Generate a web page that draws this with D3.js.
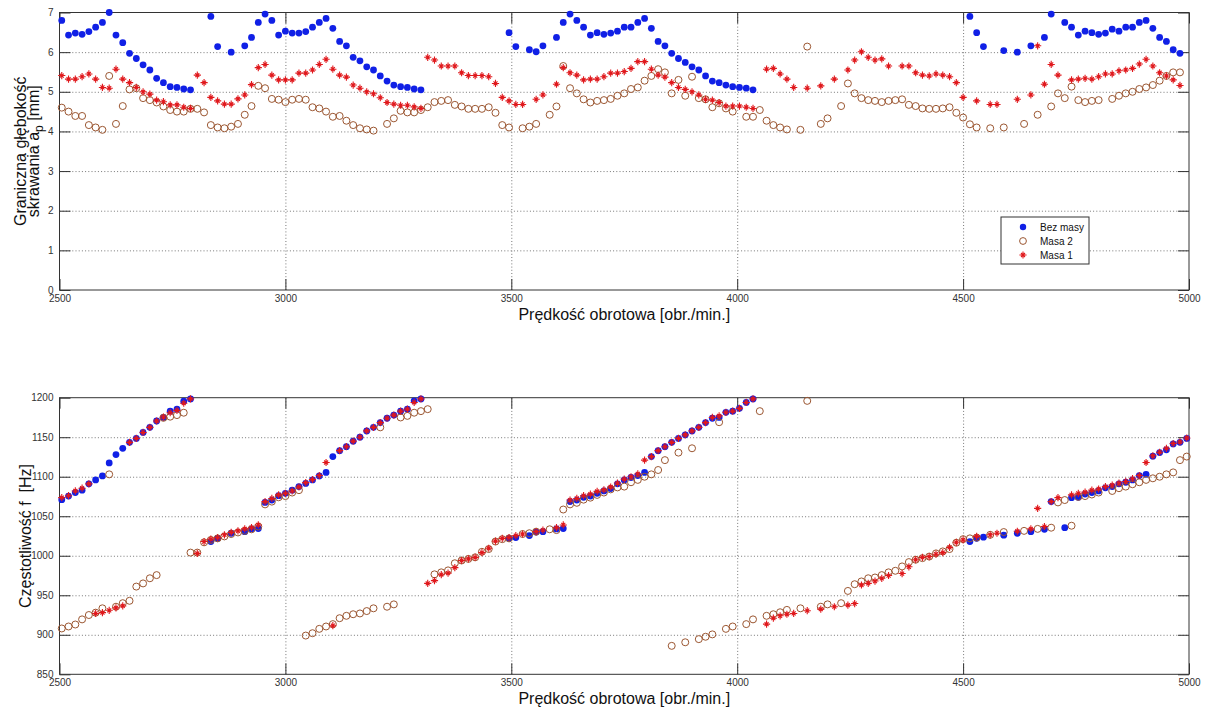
<!DOCTYPE html>
<html>
<head>
<meta charset="utf-8">
<script src="https://cdn.jsdelivr.net/npm/d3@7"></script>
<style>
  body { margin: 0; background: #fff; }
  svg { display: block; font-family: "Liberation Sans", Arial, sans-serif; }
  .tick text { font-size: 10px; fill: #333; }
  .label { font-size: 16px; fill: #111; }
</style>
</head>
<body>
<svg id="chart" width="1206" height="713"></svg>
<script>
// --- data: [rpm, value] ---
const rpmTicks = [2500, 3000, 3500, 4000, 4500, 5000];
const depthTicks = [0, 1, 2, 3, 4, 5, 6, 7];
const freqTicks = [850, 900, 950, 1000, 1050, 1100, 1150, 1200];
const seriesNames = ["Bez masy", "Masa 2", "Masa 1"];

// graniczna glebokosc skrawania [mm]
const depthBezMasy = [[2505,6.80],[2520,6.43],[2535,6.48],[2550,6.45],[2565,6.52],[2580,6.63],[2595,6.75],[2610,7.0],[2625,6.43],[2640,6.24],[2655,5.97],[2670,5.84],[2685,5.68],[2700,5.55],[2715,5.34],[2730,5.23],[2745,5.13],[2760,5.11],[2775,5.07],[2790,5.05],
  [2835,6.90],[2850,6.14],[2880,6.00],[2910,6.16],[2925,6.37],[2940,6.75],[2955,6.96],[2970,6.80],[2985,6.43],[3000,6.53],[3015,6.48],[3030,6.48],[3045,6.52],[3060,6.63],[3075,6.75],[3090,6.85],[3105,6.60],[3120,6.27],[3135,6.16],[3150,5.87],[3165,5.78],[3180,5.63],[3195,5.55],[3210,5.40],[3225,5.27],[3240,5.17],[3255,5.13],[3270,5.11],[3285,5.07],[3300,5.05],
  [3495,6.49],[3510,6.14],[3540,6.06],[3555,6.01],[3570,6.16],[3600,6.37],[3615,6.75],[3630,6.96],[3645,6.80],[3660,6.63],[3675,6.43],[3690,6.49],[3705,6.45],[3720,6.48],[3735,6.53],[3750,6.63],[3765,6.63],[3780,6.75],[3795,6.85],[3810,6.60],[3825,6.27],[3840,6.16],[3855,5.97],[3870,5.84],[3885,5.74],[3900,5.63],[3915,5.55],[3930,5.40],[3945,5.27],[3960,5.23],[3975,5.17],[3990,5.13],[4005,5.11],[4020,5.09],[4035,5.05],
  [4515,6.90],[4530,6.49],[4545,6.14],[4590,6.04],[4620,6.00],[4650,6.16],[4680,6.37],[4695,6.96],[4725,6.75],[4740,6.63],[4755,6.43],[4770,6.53],[4785,6.49],[4800,6.45],[4815,6.48],[4830,6.58],[4845,6.53],[4860,6.63],[4875,6.63],[4890,6.75],[4905,6.80],[4920,6.60],[4935,6.37],[4950,6.27],[4965,6.06],[4980,5.97]];

const depthMasa2 = [[2505,4.60],[2520,4.50],[2535,4.39],[2550,4.39],[2565,4.16],[2580,4.10],[2595,4.04],[2610,5.40],[2625,4.19],[2640,4.64],[2655,5.06],[2670,5.09],[2685,4.84],[2700,4.79],[2715,4.73],[2730,4.63],[2745,4.54],[2760,4.50],[2775,4.50],[2790,4.57],[2805,4.57],[2820,4.48],[2835,4.16],[2850,4.10],[2865,4.08],[2880,4.12],[2895,4.19],[2910,4.42],[2925,4.64],[2940,5.15],[2955,5.09],[2970,4.82],[2985,4.80],[3000,4.74],[3015,4.80],[3030,4.82],[3045,4.80],[3060,4.61],[3075,4.58],[3090,4.50],[3105,4.37],[3120,4.39],[3135,4.27],[3150,4.16],[3165,4.08],[3180,4.05],[3195,4.02],[3225,4.19],[3240,4.33],[3255,4.52],[3270,4.48],[3285,4.48],[3300,4.54],
  [3315,4.61],[3330,4.74],[3345,4.77],[3360,4.79],[3375,4.67],[3390,4.63],[3405,4.57],[3420,4.57],[3435,4.57],[3450,4.61],[3465,4.47],[3480,4.16],[3495,4.10],[3525,4.08],[3540,4.12],[3555,4.19],[3585,4.42],[3600,4.63],[3615,5.65],[3630,5.09],[3645,4.96],[3660,4.81],[3675,4.73],[3690,4.77],[3705,4.79],[3720,4.82],[3735,4.90],[3750,4.96],[3765,5.07],[3780,5.11],[3795,5.28],[3810,5.40],[3825,5.57],[3840,5.49],[3855,4.96],[3870,5.30],[3885,4.90],[3900,5.38],[3915,4.84],[3930,4.81],[3945,4.61],[3960,4.71],[3975,4.58],[3990,4.50],[4020,4.37],[4035,4.37],
  [4050,4.54],[4065,4.27],[4080,4.16],[4095,4.10],[4110,4.05],[4140,4.04],[4155,6.14],[4185,4.19],[4200,4.33],[4230,4.64],[4245,5.21],[4260,4.96],[4275,4.84],[4290,4.79],[4305,4.77],[4320,4.74],[4335,4.77],[4350,4.79],[4365,4.81],[4380,4.67],[4395,4.64],[4410,4.58],[4425,4.57],[4440,4.57],[4455,4.58],[4470,4.61],[4485,4.47],[4500,4.35],[4515,4.18],[4530,4.10],[4560,4.08],[4590,4.10],[4635,4.19],[4665,4.42],[4695,4.63],[4710,4.96],[4725,4.84],[4740,5.13],[4755,4.79],[4770,4.74],[4785,4.77],[4800,4.79],[4830,4.82],[4845,4.90],[4860,4.96],[4875,5.00],[4890,5.07],[4905,5.11],[4920,5.17],[4935,5.28],[4950,5.40],[4965,5.49],[4980,5.49]];

const depthMasa1 = [[2505,5.41],[2520,5.32],[2535,5.32],[2550,5.38],[2565,5.45],[2580,5.32],[2595,5.11],[2610,5.09],[2625,5.57],[2640,5.32],[2655,5.23],[2670,5.11],[2685,5.00],[2700,4.94],[2715,4.79],[2730,4.75],[2745,4.67],[2760,4.67],[2775,4.61],[2790,4.58],[2805,5.42],[2820,5.23],[2835,4.86],[2850,4.77],[2865,4.69],[2880,4.69],[2895,4.82],[2910,4.92],[2925,5.18],[2940,5.61],[2955,5.69],[2970,5.42],[2985,5.30],[3000,5.30],[3015,5.30],[3030,5.47],[3045,5.47],[3060,5.55],[3075,5.69],[3090,5.82],[3105,5.57],[3120,5.42],[3135,5.37],[3150,5.17],[3165,5.09],[3180,5.00],[3195,4.95],[3210,4.85],[3225,4.73],[3240,4.69],[3255,4.66],[3270,4.66],[3285,4.62],[3300,4.58],
  [3315,5.87],[3330,5.80],[3345,5.65],[3360,5.65],[3375,5.65],[3390,5.48],[3405,5.41],[3420,5.41],[3435,5.41],[3450,5.38],[3465,5.21],[3480,4.86],[3495,4.77],[3510,4.68],[3525,4.68],[3555,4.81],[3570,4.92],[3600,5.19],[3615,5.61],[3630,5.48],[3645,5.42],[3660,5.30],[3675,5.32],[3690,5.32],[3705,5.38],[3720,5.47],[3735,5.47],[3750,5.51],[3765,5.59],[3780,5.76],[3795,5.76],[3810,5.57],[3825,5.42],[3840,5.37],[3855,5.23],[3870,5.11],[3885,5.06],[3900,5.00],[3915,4.92],[3930,4.81],[3945,4.79],[3960,4.73],[3975,4.64],[3990,4.64],[4005,4.64],[4020,4.61],[4035,4.58],
  [4065,5.57],[4080,5.59],[4095,5.45],[4110,5.32],[4125,5.11],[4155,5.09],[4185,5.15],[4215,5.32],[4245,5.55],[4260,5.80],[4275,6.01],[4290,5.87],[4305,5.80],[4320,5.83],[4335,5.65],[4365,5.65],[4380,5.65],[4395,5.48],[4410,5.42],[4425,5.40],[4440,5.45],[4455,5.42],[4470,5.38],[4485,5.23],[4500,4.86],[4530,4.77],[4560,4.68],[4575,4.68],[4620,4.81],[4650,4.92],[4665,6.16],[4680,5.19],[4695,5.69],[4710,5.42],[4740,5.30],[4755,5.32],[4770,5.34],[4785,5.32],[4800,5.38],[4815,5.45],[4830,5.45],[4845,5.53],[4860,5.55],[4875,5.59],[4890,5.70],[4905,5.82],[4920,5.65],[4935,5.48],[4950,5.40],[4965,5.30],[4980,5.16]];

// czestotliwosc [Hz]
const freqBezMasy = [[2505,1071],[2520,1075.5],[2535,1080],[2550,1083],[2565,1091],[2580,1096],[2595,1101],[2610,1117.5],[2625,1128],[2640,1136],[2655,1143.5],[2670,1148.5],[2685,1156],[2700,1162.5],[2715,1170.5],[2730,1175],[2745,1183],[2760,1185.5],[2775,1195.5],[2790,1198.5],
  [2835,1018],[2850,1022],[2880,1028.5],[2910,1030.5],[2925,1034],[2940,1034.5],
  [2955,1067.5],[2970,1070.5],[2985,1076],[3000,1079],[3015,1083],[3030,1087.5],[3045,1091.5],[3060,1096],[3075,1101],[3090,1105.5],[3105,1125.5],[3120,1133],[3135,1138],[3150,1145],[3165,1150],[3180,1158],[3195,1162.5],[3210,1168.5],[3225,1174],[3240,1178],[3255,1183],[3270,1185.5],[3285,1196],[3300,1198.5],
  [3495,1022],[3510,1023],[3540,1025.5],[3555,1030],[3570,1030.5],[3600,1034],[3615,1034.5],
  [3630,1068.5],[3645,1070.5],[3660,1074],[3675,1075.5],[3690,1079],[3705,1082],[3720,1085],[3735,1091],[3750,1096],[3765,1099],[3780,1101.5],[3795,1105.5],[3810,1125.5],[3825,1133],[3840,1138],[3855,1143.5],[3870,1148.5],[3885,1153],[3900,1158],[3915,1162.5],[3930,1168.5],[3945,1174],[3960,1175],[3975,1181.5],[3990,1183],[4005,1186.5],[4020,1194],[4035,1198.5],
  [4515,1018],[4530,1022],[4545,1023.5],[4590,1026],[4620,1028.5],[4650,1030.5],[4680,1033.5],[4695,1068.5],[4725,1035.5],[4740,1073.5],[4755,1074],[4770,1078],[4785,1080],[4800,1082],[4815,1086],[4830,1087.5],[4845,1091],[4860,1093],[4875,1096],[4890,1101.5],[4905,1103],[4920,1126],[4935,1130.5],[4950,1134],[4965,1141.5],[4980,1143.5],[4995,1148.5]];

const freqMasa2 = [[2505,908],[2520,910.5],[2535,913],[2550,919.5],[2565,925],[2580,928],[2595,933.5],[2610,1103],[2625,935.5],[2640,940],[2655,943],[2670,961],[2685,965],[2700,971.5],[2715,975.5],[2730,1174.5],[2745,1176],[2760,1178],[2775,1181],[2790,1004],[2805,1004],[2820,1017],[2835,1020],[2850,1022],[2865,1024.5],[2880,1027.5],[2895,1029.5],[2910,1031.5],[2925,1033.5],[2940,1037],[2955,1065],[2970,1068.5],[2985,1074],[3000,1075.5],[3015,1080],[3030,1083],[3045,899],[3060,902],[3075,907.5],[3090,910.5],[3105,913.5],[3120,921],[3135,924],[3150,926],[3165,927],[3180,930],[3195,933.5],[3210,1162.5],[3225,935.5],[3240,938.5],[3255,1175],[3270,1177],[3285,1181],[3300,1183],
  [3315,1185.5],[3330,976.5],[3345,979],[3360,981.5],[3375,990.5],[3390,994],[3405,996],[3420,998],[3435,1005],[3450,1008.5],[3465,1018],[3480,1021],[3495,1022],[3525,1027.5],[3540,1028.5],[3555,1030.5],[3585,1033.5],[3600,1032.5],[3615,1058.5],[3630,1065],[3645,1067],[3660,1071],[3675,1073.5],[3690,1077],[3705,1080],[3720,1084],[3735,1086.5],[3750,1087.5],[3765,1093],[3780,1096],[3795,1100],[3810,1103],[3825,1108.5],[3840,1121],[3855,886],[3870,1130.5],[3885,890.5],[3900,1136],[3915,894.5],[3930,897.5],[3945,900.5],[3960,1169],[3975,907.5],[3990,910.5],[4020,913.5],[4035,919.5],
  [4050,1183],[4065,924],[4080,926],[4095,928.5],[4110,931.5],[4140,933.5],[4155,1196],[4185,935.5],[4200,938.5],[4230,940],[4245,955.5],[4260,964],[4275,967.5],[4290,971.5],[4305,972.5],[4320,975.5],[4335,979],[4350,981],[4365,986.5],[4380,992],[4395,995],[4410,997],[4425,999],[4440,1003],[4455,1005.5],[4470,1008.5],[4485,1016.5],[4500,1021],[4515,1022],[4530,1023],[4560,1026.5],[4590,1030],[4635,1031.5],[4665,1034],[4695,1035.5],[4710,1067.5],[4725,1070.5],[4740,1038],[4755,1074.5],[4770,1075.5],[4785,1077.5],[4800,1080],[4830,1082],[4845,1085.5],[4860,1087.5],[4875,1090.5],[4890,1093],[4905,1096],[4920,1098],[4935,1100],[4950,1103],[4965,1105.5],[4980,1121],[4995,1125.5]];

const freqMasa1 = [[2505,1073.5],[2520,1076],[2535,1082],[2550,1085.5],[2565,1091],[2580,927],[2595,928],[2610,931],[2625,934],[2640,936.5],[2655,1143.5],[2670,1148.5],[2685,1156],[2700,1162.5],[2715,1170.5],[2730,1175.5],[2745,1181],[2760,1184],[2775,1193],[2790,1198.5],[2805,1003],[2820,1018],[2835,1021],[2850,1023],[2865,1026.5],[2880,1029.5],[2895,1031.5],[2910,1034],[2925,1035.5],[2940,1039],[2955,1068.5],[2970,1072.5],[2985,1077],[3000,1079],[3015,1082],[3030,1087],[3045,1092.5],[3060,1096.5],[3075,1101.5],[3090,1118],[3105,911.5],[3120,1133],[3135,1138],[3150,1145],[3165,1150],[3180,1158],[3195,1162.5],[3210,1168.5],[3225,1174],[3240,1178],[3255,1183],[3270,1185.5],[3285,1194],[3300,1198.5],
  [3315,965],[3330,968.5],[3345,976],[3360,978],[3375,985],[3390,994],[3405,996],[3420,998],[3435,1004],[3450,1009.5],[3465,1018.5],[3480,1022],[3495,1023],[3510,1025.5],[3525,1027.5],[3555,1030.5],[3570,1032.5],[3600,1035.5],[3615,1039],[3630,1070.5],[3645,1072.5],[3660,1076],[3675,1078],[3690,1081.5],[3705,1083.5],[3720,1087],[3735,1092],[3750,1097],[3765,1100],[3780,1103.5],[3795,1121],[3810,1125.5],[3825,1133],[3840,1138],[3855,1143.5],[3870,1148.5],[3885,1153],[3900,1158],[3915,1162.5],[3930,1168.5],[3945,1175],[3960,1177],[3975,1181.5],[3990,1183],[4005,1186.5],[4020,1194],[4035,1198.5],
  [4065,913.5],[4080,921],[4095,924],[4110,926],[4125,927],[4155,930.5],[4185,932.5],[4215,935.5],[4245,937.5],[4260,939.5],[4275,963],[4290,965],[4305,968],[4320,971.5],[4335,975],[4365,977.5],[4380,986],[4395,995],[4410,998],[4425,999],[4440,1002],[4455,1004],[4470,1010.5],[4485,1017],[4500,1020],[4530,1024.5],[4560,1026.5],[4575,1028.5],[4620,1031],[4650,1034],[4665,1060],[4680,1037],[4695,1068.5],[4710,1073.5],[4740,1077],[4755,1079],[4770,1080.5],[4785,1083],[4800,1084.5],[4815,1087.5],[4830,1089.5],[4845,1092],[4860,1094],[4875,1097.5],[4890,1101.5],[4905,1118],[4920,1126.5],[4935,1131],[4950,1136],[4965,1142],[4980,1144],[4995,1149]];

const blue = "#1020e6", brown = "#9b5631", red = "#e0181c";
const star = "M-3.6,0H3.6M0,-3.6V3.6M-2,-2L2,2M-2,2L2,-2";

const svg = d3.select("#chart");
const left = 59.5, right = 1189;
const fmt = d3.format("d");

function panel(top, bottom, yDomain, yTicks, series) {
  const x = d3.scaleLinear().domain([2500, 5000]).range([left, right]);
  const y = d3.scaleLinear().domain(yDomain).range([bottom, top]);
  const g = svg.append("g");
  const h = bottom - top, w = right - left;

  // dotted grid, only inside the box
  g.append("g").attr("transform", `translate(0,${bottom})`)
    .call(d3.axisBottom(x).tickValues(rpmTicks.slice(1, -1)).tickSize(-h).tickFormat(""))
    .call(a => a.select(".domain").remove())
    .selectAll("line").attr("stroke", "#777").attr("stroke-dasharray", "1,2.2");
  g.append("g").attr("transform", `translate(${left},0)`)
    .call(d3.axisLeft(y).tickValues(yTicks.slice(1, -1)).tickSize(-w).tickFormat(""))
    .call(a => a.select(".domain").remove())
    .selectAll("line").attr("stroke", "#777").attr("stroke-dasharray", "1,2.2");

  // inward ticks on all four sides
  const tk = 11;
  const ax = [
    [d3.axisBottom(x).tickValues(rpmTicks).tickSize(-tk).tickPadding(5).tickFormat(fmt), `translate(0,${bottom})`],
    [d3.axisTop(x).tickValues(rpmTicks).tickSize(-tk).tickFormat(""), `translate(0,${top})`],
    [d3.axisLeft(y).tickValues(yTicks).tickSize(-tk).tickPadding(6).tickFormat(fmt), `translate(${left},0)`],
    [d3.axisRight(y).tickValues(yTicks).tickSize(-tk).tickFormat(""), `translate(${right},0)`]
  ];
  ax.forEach(([a, t]) => {
    g.append("g").attr("transform", t).call(a)
      .call(s => s.select(".domain").remove())
      .call(s => s.selectAll("line").attr("stroke", "#333"))
      .call(s => s.selectAll("text").attr("font-family", null).attr("font-size", null));
  });

  g.append("rect").attr("x", left).attr("y", top).attr("width", w).attr("height", h)
    .attr("fill", "none").attr("stroke", "#333").attr("stroke-width", 1);

  const [s0, s1, s2] = series;
  g.append("g").selectAll("circle").data(s0).join("circle")
    .attr("cx", d => x(d[0])).attr("cy", d => y(d[1])).attr("r", 3.4).attr("fill", blue);
  g.append("g").selectAll("circle").data(s1).join("circle")
    .attr("cx", d => x(d[0])).attr("cy", d => y(d[1])).attr("r", 3.5)
    .attr("fill", "none").attr("stroke", brown).attr("stroke-width", 1);
  g.append("g").selectAll("path").data(s2).join("path")
    .attr("transform", d => `translate(${x(d[0])},${y(d[1])})`).attr("d", star)
    .attr("stroke", red).attr("stroke-width", 1.1).attr("fill", "none");

  g.append("text").attr("class", "label").attr("x", (left + right) / 2).attr("y", bottom + 30)
    .attr("text-anchor", "middle").text("Prędkość obrotowa [obr./min.]");
  return g;
}

// top panel: limiting depth of cut
const gTop = panel(12.5, 290, [0, 7], depthTicks, [depthBezMasy, depthMasa2, depthMasa1]);
const yMidTop = (12.5 + 290) / 2;
gTop.append("text").attr("class", "label").attr("text-anchor", "middle")
  .attr("transform", `translate(26,${yMidTop}) rotate(-90)`).text("Graniczna głębokość");
const l2 = gTop.append("text").attr("class", "label").attr("text-anchor", "middle")
  .attr("transform", `translate(39,${yMidTop}) rotate(-90)`);
l2.append("tspan").text("skrawania a");
l2.append("tspan").attr("font-size", 12).attr("dy", 4).text("p");
l2.append("tspan").attr("dy", -4).text(" [mm]");

// legend
const lg = gTop.append("g");
lg.append("rect").attr("x", 1001).attr("y", 217).attr("width", 88).attr("height", 47)
  .attr("fill", "#fff").attr("stroke", "#333");
const rowY = d3.scalePoint().domain(seriesNames).range([227, 255]);
lg.append("circle").attr("cx", 1023).attr("cy", rowY(seriesNames[0])).attr("r", 3.2).attr("fill", blue);
lg.append("circle").attr("cx", 1023).attr("cy", rowY(seriesNames[1])).attr("r", 3.4)
  .attr("fill", "none").attr("stroke", brown);
lg.append("path").attr("transform", `translate(1023,${rowY(seriesNames[2])})`).attr("d", star)
  .attr("stroke", red).attr("stroke-width", 1.1);
lg.selectAll("text").data(seriesNames).join("text")
  .attr("x", 1040).attr("y", d => rowY(d) + 3.6).attr("font-size", 10).attr("fill", "#111").text(d => d);

// bottom panel: chatter frequency
const gBot = panel(397.7, 674.3, [850, 1200], freqTicks, [freqBezMasy, freqMasa2, freqMasa1]);
gBot.append("text").attr("class", "label").attr("text-anchor", "middle")
  .attr("transform", `translate(31,${(397.7 + 674.3) / 2}) rotate(-90)`)
  .style("white-space", "pre").text("Częstotliwość f  [Hz]");
</script>
</body>
</html>
